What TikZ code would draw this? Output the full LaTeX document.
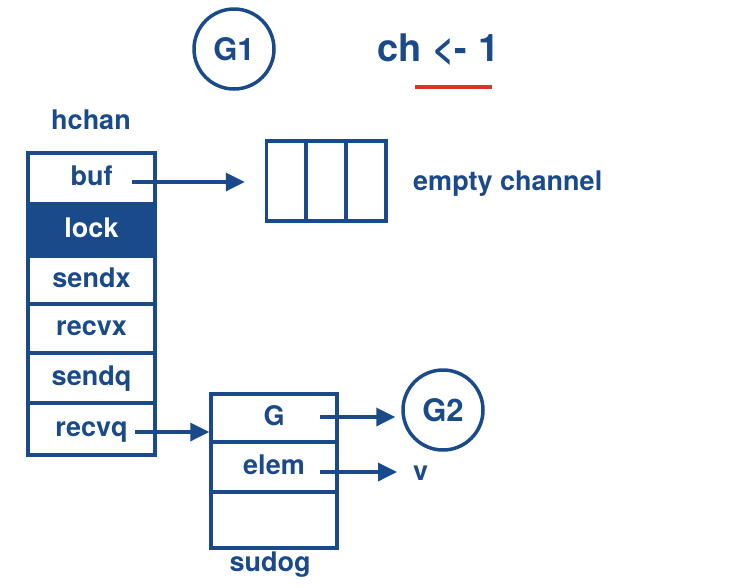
\documentclass[tikz,border=0pt]{standalone}
\usepackage{fontspec}
\setmainfont{TeX Gyre Heros}
\usetikzlibrary{arrows.meta}
\definecolor{gblue}{RGB}{26,74,138}
\definecolor{gred}{RGB}{217,52,43}
\begin{document}
\begin{tikzpicture}[x=1pt,y=-1pt,
  lbl/.style={text=gblue, inner sep=0pt, font=\fontsize{27}{32}\selectfont\bfseries},
  cell/.style={lbl, draw=gblue, line width=3.5pt, text height=19pt, text depth=5pt},
  hcell/.style={cell, minimum width=127pt},
  scell/.style={cell, minimum width=126pt},
  bcell/.style={draw=gblue, line width=3.5pt, minimum width=40pt, minimum height=80pt, inner sep=0pt},
  gor/.style={circle, draw=gblue, line width=3.5pt, minimum size=80pt, inner sep=0pt, text=gblue, font=\fontsize{31}{36}\selectfont\bfseries},
  ptr/.style={draw=gblue, line width=3.5pt, -{Triangle[length=19pt,width=18pt]}}
]
\useasboundingbox (0,0) rectangle (752,587);
% hchan struct
\node[lbl] (hchan) at (91,120) {hchan};
\node[hcell, minimum height=51pt] (buf) at (91.5,178.5) {buf};
\node[hcell, minimum height=52pt, fill=gblue, text=white] (lock) at (91.5,230) {lock};
\node[hcell, minimum height=48pt] (sendx) at (91.5,280) {sendx};
\node[hcell, minimum height=49pt] (recvx) at (91.5,328.5) {recvx};
\node[hcell, minimum height=50pt] (sendq) at (91.5,378) {sendq};
\node[hcell, minimum height=52pt] (recvq) at (91.5,429) {recvq};
% buffer
\node[bcell] (b1) at (286.5,181) {};
\node[bcell] (b2) at (326,181) {};
\node[bcell] (b3) at (366,181) {};
\node[lbl, anchor=west] (empty) at (413,184) {empty channel};
% goroutines
\node[gor] (G1) at (234,49) {G1};
\node[lbl, font=\fontsize{38}{44}\selectfont\bfseries] (op) at (438.5,50) {ch <- 1};
\draw[gred, line width=4pt] (415,87) -- (492,87);
% sudog
\node[scell, minimum height=48pt] (sG) at (274,418) {G};
\node[scell, minimum height=50pt] (sE) at (274,467) {elem};
\node[scell, minimum height=56pt] (sX) at (274,520) {};
\node[lbl] (sudog) at (270,565) {sudog};
\node[gor] (G2) at (443,410) {G2};
\node[lbl, anchor=west] (v) at (413,473) {v};
% pointers
\coordinate (bufp) at (132,182);
\coordinate (recvqp) at (135,432);
\coordinate (Gp) at (320,417);
\coordinate (elemp) at (320,472);
\draw[ptr, shorten >=20pt] (bufp) -- (bufp -| b1.west);
\draw[ptr] (recvqp) -- (recvqp -| sG.west);
\draw[ptr, shorten >=6pt] (Gp) -- (Gp -| G2.west);
\draw[ptr, shorten >=16pt] (elemp) -- (elemp -| v.west);
\end{tikzpicture}
\end{document}
